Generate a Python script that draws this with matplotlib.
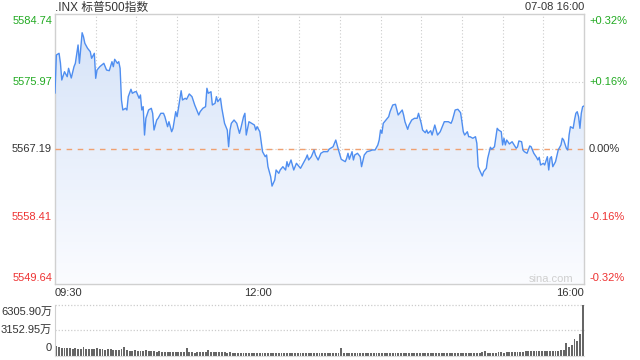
import numpy as np
import matplotlib
matplotlib.use("Agg")
import matplotlib.pyplot as plt
from matplotlib.colors import LinearSegmentedColormap
from matplotlib.patches import Polygon

plt.rcParams['font.family'] = ['Liberation Sans', 'Noto Sans CJK SC', 'DejaVu Sans']

# ---------------- data ----------------
title = ".INX 标普500指数"
stamp = "07-08 16:00"
prev_close = 5567.19
price_ticks = [5584.74, 5575.97, 5567.19, 5558.41, 5549.64]
price_labels = ["5584.74", "5575.97", "5567.19", "5558.41", "5549.64"]
pct_labels = ["+0.32%", "+0.16%", "0.00%", "-0.16%", "-0.32%"]
time_labels = ["09:30", "12:00", "16:00"]
time_label_minutes = [0, 150, 390]
vol_ticks = [0, 3152.95, 6305.90]
vol_labels = ["0", "3152.95万", "6305.90万"]

minutes = [0, 1, 3, 4, 5, 7, 9, 10, 12, 14, 15, 17, 18, 20, 21, 22, 24, 26, 27, 29,
           30, 31, 33, 36, 38, 40, 42, 43, 44, 46, 47, 48, 49, 50, 52, 53, 54, 56, 57, 59,
           60, 62, 63, 64, 65, 66, 67, 69, 71, 72, 73, 75, 76, 78, 80, 81, 83, 84, 86, 87,
           89, 90, 91, 93, 94, 96, 97, 99, 101, 103, 106, 107, 109, 111, 112, 113, 115, 116, 118, 119,
           120, 122, 123, 125, 127, 128, 129, 130, 132, 134, 136, 137, 139, 140, 141, 143, 145, 147, 148, 149,
           151, 153, 155, 156, 157, 159, 160, 162, 163, 165, 166, 168, 170, 171, 172, 174, 176, 178, 179, 181,
           183, 185, 186, 187, 189, 191, 192, 194, 196, 198, 201, 202, 205, 207, 208, 209, 211, 214, 215, 216,
           217, 219, 220, 221, 223, 225, 226, 228, 230, 232, 234, 236, 238, 239, 240, 241, 242, 244, 246, 247,
           249, 251, 253, 254, 256, 257, 258, 260, 261, 263, 265, 267, 268, 270, 271, 273, 274, 275, 277, 278,
           280, 282, 284, 285, 287, 290, 292, 293, 295, 297, 299, 300, 301, 302, 304, 305, 306, 308, 310, 311,
           312, 313, 315, 316, 318, 319, 321, 322, 324, 326, 327, 329, 330, 331, 332, 333, 335, 337, 338, 340,
           341, 342, 344, 345, 346, 348, 350, 351, 353, 355, 356, 357, 358, 360, 361, 363, 364, 365, 366, 367,
           369, 371, 373, 374, 375, 377, 378, 379, 380, 382, 383, 384, 385, 386, 387, 388, 389, 390]

prices = [5574.49, 5579.42, 5579.64, 5578.38, 5576.17, 5577.25, 5576.60, 5577.69, 5576.43, 5577.90,
          5578.34, 5580.72, 5578.34, 5582.31, 5581.79, 5580.94, 5580.29, 5579.85, 5578.99, 5579.64,
          5576.39, 5577.47, 5577.90, 5578.34, 5577.47, 5577.38, 5578.55, 5577.90, 5578.86, 5578.34,
          5578.55, 5577.69, 5573.58, 5572.28, 5572.50, 5572.28, 5574.01, 5574.97, 5574.45, 5574.65,
          5574.65, 5573.80, 5574.23, 5572.28, 5572.71, 5569.03, 5571.20, 5572.28, 5572.50, 5571.85,
          5569.68, 5570.98, 5571.20, 5571.85, 5571.85, 5571.41, 5570.11, 5570.76, 5569.46, 5569.90,
          5572.06, 5571.41, 5572.50, 5574.78, 5573.58, 5573.80, 5573.67, 5574.36, 5574.01, 5572.93,
          5571.63, 5572.06, 5572.50, 5572.71, 5575.10, 5574.45, 5574.65, 5572.93, 5573.15, 5574.01,
          5573.36, 5573.80, 5572.50, 5570.55, 5569.68, 5567.51, 5569.68, 5570.55, 5570.98, 5570.55,
          5569.25, 5569.90, 5571.41, 5571.85, 5569.03, 5570.76, 5570.55, 5570.33, 5569.68, 5570.11,
          5569.46, 5566.87, 5566.22, 5566.44, 5564.92, 5563.62, 5562.40, 5563.19, 5564.49, 5564.06,
          5564.49, 5564.92, 5564.49, 5565.57, 5564.92, 5565.79, 5564.49, 5565.36, 5565.14, 5564.71,
          5565.36, 5566.01, 5566.44, 5565.79, 5566.22, 5567.09, 5566.44, 5565.79, 5566.66, 5566.87,
          5566.87, 5567.18, 5567.51, 5568.38, 5567.74, 5567.09, 5565.88, 5565.57, 5566.01, 5566.66,
          5565.88, 5566.87, 5565.79, 5566.44, 5566.66, 5566.22, 5564.92, 5566.44, 5566.87, 5566.96,
          5567.09, 5567.09, 5567.74, 5568.38, 5569.68, 5569.25, 5570.55, 5570.98, 5571.41, 5572.06,
          5572.93, 5573.02, 5571.63, 5571.85, 5572.28, 5571.63, 5570.76, 5569.77, 5570.33, 5570.98,
          5571.20, 5571.20, 5571.85, 5570.55, 5569.68, 5569.33, 5569.68, 5569.25, 5569.59, 5569.03,
          5570.33, 5569.03, 5569.46, 5569.90, 5570.76, 5570.76, 5570.55, 5570.98, 5572.28, 5572.37,
          5571.93, 5570.76, 5569.46, 5569.03, 5569.46, 5568.81, 5568.81, 5568.61, 5568.81, 5567.96,
          5564.92, 5564.49, 5563.71, 5564.27, 5564.71, 5566.01, 5567.44, 5567.18, 5567.51, 5569.90,
          5569.68, 5569.46, 5567.74, 5568.61, 5567.74, 5568.38, 5567.87, 5568.16, 5567.87, 5567.31,
          5567.51, 5568.26, 5568.16, 5567.09, 5566.87, 5566.66, 5567.61, 5567.51, 5566.66, 5566.14,
          5565.79, 5566.14, 5565.14, 5565.36, 5565.14, 5566.22, 5564.49, 5566.01, 5566.22, 5564.92,
          5565.57, 5567.09, 5567.74, 5568.61, 5568.38, 5567.31, 5567.09, 5569.03, 5570.11, 5569.90,
          5570.98, 5571.85, 5572.06, 5571.41, 5569.90, 5571.85, 5572.71, 5572.80]

# volume per 2-minute bar, in 万
volumes = [1150, 1000, 950, 900, 870, 880, 850, 900, 830, 860,
           1030, 820, 800, 840, 780, 960, 760, 800, 740, 770,
           790, 700, 720, 680, 760, 1000, 620, 600, 580, 620,
           560, 600, 540, 620, 520, 560, 500, 480, 520, 460,
           440, 460, 420, 440, 400, 430, 460, 450, 980, 400,
           380, 360, 420, 390, 400, 380, 700, 420, 440, 460,
           400, 430, 380, 360, 380, 340, 360, 330, 350, 320,
           340, 330, 300, 320, 310, 340, 300, 290, 320, 300,
           280, 300, 320, 290, 310, 300, 280, 300, 320, 290,
           300, 310, 330, 300, 280, 300, 310, 290, 300, 280,
           300, 320, 290, 300, 310, 900, 300, 290, 280, 310,
           300, 320, 290, 300, 280, 310, 320, 300, 290, 310,
           300, 290, 280, 300, 310, 290, 300, 280, 300, 290,
           320, 300, 310, 290, 300, 320, 340, 310, 300, 330,
           350, 320, 340, 330, 320, 340, 300, 330, 350, 320,
           340, 360, 330, 350, 320, 340, 360, 380, 500, 350,
           370, 340, 360, 380, 400, 370, 420, 400, 450, 420,
           430, 480, 440, 520, 500, 540, 520, 560, 540, 540,
           520, 540, 560, 580, 560, 600, 640, 740, 1570, 1080,
           1270, 1980, 1770, 2680, 6305.90]

# ---------------- style ----------------
W, H = 640, 360
GREEN = '#22aa22'
RED = '#ee3333'
DARK = '#333333'
GRID = '#cccccc'
LINE = '#4f8ef0'

fig = plt.figure(figsize=(6.4, 3.6), dpi=100)

def px(x, y):
    return x / W, 1 - y / H

# main axes
L, R, T, B = 55, 584, 14, 284.4
ax = fig.add_axes([L / W, 1 - B / H, (R - L) / W, (B - T) / H])
ymin, ymax = price_ticks[-1], price_ticks[0]
ax.set_xlim(0, 390)
ax.set_ylim(ymin, ymax)

for m in range(30, 390, 30):
    ax.axvline(m, color=GRID, lw=0.8, ls=(0, (1, 2)), zorder=0.5)
for v in price_ticks[1:-1]:
    if v != prev_close:
        ax.axhline(v, color=GRID, lw=0.8, ls=(0, (1, 2)), zorder=0.5)
ax.axhline(prev_close, color=GRID, lw=0.8, ls=(0, (1, 2)), zorder=0.5)
ax.axhline(prev_close, color='#f0a070', lw=1.0, ls=(0, (4, 4)), zorder=3)

# gradient fill
cmap = LinearSegmentedColormap.from_list('g', ['#fbfcff', '#d4e2f8'])
grad = np.linspace(0, 1, 256).reshape(-1, 1)
im = ax.imshow(grad, extent=[0, 390, ymin, ymax], origin='lower', aspect='auto',
               cmap=cmap, zorder=1, interpolation='bilinear')
verts = [(minutes[0], ymin)] + list(zip(minutes, prices)) + [(minutes[-1], ymin)]
patch = Polygon(verts, closed=True, facecolor='none', edgecolor='none', transform=ax.transData)
ax.add_patch(patch)
im.set_clip_path(patch)

ax.plot(minutes, prices, color=LINE, lw=1.0, zorder=4)

ax.set_xticks([])
ax.set_yticks([])
for s in ax.spines.values():
    s.set_color('#d0d0d0')
    s.set_linewidth(1.0)

# left / right price labels
label_y = [20.7, 81.7, 149.3, 217.3, 278.3]
def price_color(v):
    if v > prev_close:
        return GREEN
    if v < prev_close:
        return RED
    return DARK
for v, lab, pl, yy in zip(price_ticks, price_labels, pct_labels, label_y):
    c = price_color(v)
    fig.text(*px(52, yy), lab, ha='right', va='center', fontsize=8, color=c)
    fig.text(*px(589, yy), pl, ha='left', va='center', fontsize=8, color=c)

# title / stamp
fig.text(*px(55, 7.5), title, ha='left', va='center', fontsize=8.5, color=DARK)
fig.text(*px(584, 7.5), stamp, ha='right', va='center', fontsize=8, color=DARK)

# time labels
for lab, m in zip(time_labels, time_label_minutes):
    xpix = L + (R - L) * m / 390
    ha = 'left' if m == 0 else ('right' if m == 390 else 'center')
    fig.text(*px(xpix, 293.5), lab, ha=ha, va='center', fontsize=8, color=DARK)

# watermark
fig.text(*px(573, 279), "sina.com", ha='right', va='center', fontsize=8, color='#cfcfcf')

# volume axes
VT, VB = 304.5, 355.5
axv = fig.add_axes([L / W, 1 - VB / H, (R - L) / W, (VB - VT) / H])
axv.set_xlim(0, 390)
axv.set_ylim(0, vol_ticks[-1])
bar_x = [2 * i + 1 for i in range(len(volumes))]
axv.bar(bar_x, volumes, width=1.4, color='#666666', zorder=2)
for v in vol_ticks[1:]:
    axv.axhline(v, color=GRID, lw=0.9, ls=(0, (1, 1.5)), zorder=0.5, clip_on=False)
axv.set_xticks([])
axv.set_yticks([])
for k, s in axv.spines.items():
    s.set_visible(k in ('left', 'bottom'))
    s.set_color('#d0d0d0')
axv.spines['bottom'].set_color('#e0e0e0')
vol_label_y = [348.3, 330, 311.7]
for lab, yy in zip(vol_labels, vol_label_y):
    fig.text(*px(52, yy), lab, ha='right', va='center', fontsize=8, color=DARK)

fig.savefig('out.png', dpi=100)
